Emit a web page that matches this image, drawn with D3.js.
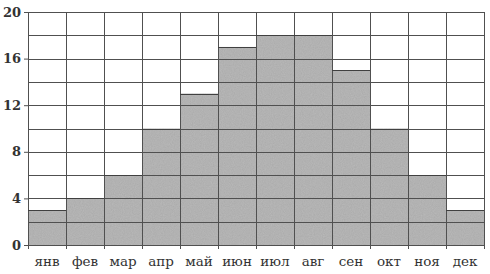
<!DOCTYPE html>
<html>
<head>
<meta charset="utf-8">
<script src="https://cdn.jsdelivr.net/npm/d3@7"></script>
<style>
    body { margin: 0; background: #fff; }
    #chart { width: 490px; height: 274px; }
    .axis text { font-family: "DejaVu Serif", "Liberation Serif", serif; fill: #333; }
    .axis .domain { display: none; }
</style>
</head>
<body>
<div id="chart"></div>
<script>
const months = ['янв', 'фев', 'мар', 'апр', 'май', 'июн', 'июл', 'авг', 'сен', 'окт', 'ноя', 'дек'];
const values = [3, 4, 6, 10, 13, 17, 18, 18, 15, 10, 6, 3];
const yTicks = [0, 4, 8, 12, 16, 20];
const gridTicks = [0, 2, 4, 6, 8, 10, 12, 14, 16, 18, 20];

const padding = {left: 28, top: 12, right: 6, bottom: 29};
const width = 490, height = 274;
const w = width - padding.left - padding.right,
      h = height - padding.top - padding.bottom;

const svg = d3.select('#chart')
    .append('svg')
    .attr('width', width)
    .attr('height', height);

// grainy grey like the printed original
const defs = svg.append('defs');
const filter = defs.append('filter').attr('id', 'grain');
filter.append('feTurbulence')
    .attr('type', 'fractalNoise')
    .attr('baseFrequency', 0.9)
    .attr('numOctaves', 2)
    .attr('result', 'noise');
filter.append('feColorMatrix')
    .attr('in', 'noise')
    .attr('type', 'matrix')
    .attr('values', '0 0 0 0 0  0 0 0 0 0  0 0 0 0 0  0 0 0 0.18 0')
    .attr('result', 'dots');
filter.append('feComposite')
    .attr('in', 'dots')
    .attr('in2', 'SourceGraphic')
    .attr('operator', 'in')
    .attr('result', 'dotsIn');
filter.append('feMerge').selectAll('feMergeNode')
    .data(['SourceGraphic', 'dotsIn'])
    .join('feMergeNode')
    .attr('in', d => d);

const g = svg.append('g')
    .attr('transform', `translate(${padding.left}, ${padding.top})`);

const xScale = d3.scaleBand()
    .domain(months)
    .range([0, w])
    .padding(0);
const yScale = d3.scaleLinear()
    .domain([0, 20])
    .range([h, 0]);

// bars
g.append('g')
    .selectAll('rect')
    .data(values)
    .join('rect')
    .attr('x', (d, i) => xScale(months[i]))
    .attr('y', d => yScale(d))
    .attr('width', xScale.bandwidth())
    .attr('height', d => yScale(0) - yScale(d))
    .attr('fill', '#bababa')
    .attr('filter', 'url(#grain)');

// horizontal grid
g.append('g')
    .attr('class', 'grid')
    .selectAll('line')
    .data(gridTicks)
    .join('line')
    .attr('x1', 0)
    .attr('x2', w)
    .attr('y1', d => Math.round(yScale(d)) + 0.5)
    .attr('y2', d => Math.round(yScale(d)) + 0.5)
    .attr('stroke', '#505050')
    .attr('stroke-width', 1);

// vertical grid (column borders), sticking out a bit below the axis
const edges = months.map(m => xScale(m)).concat([w]);
g.append('g')
    .selectAll('line')
    .data(edges)
    .join('line')
    .attr('x1', d => Math.round(d) + 0.5)
    .attr('x2', d => Math.round(d) + 0.5)
    .attr('y1', yScale(20))
    .attr('y2', yScale(0) + 4)
    .attr('stroke', '#505050')
    .attr('stroke-width', 1);

// bar outlines at the tops
g.append('g')
    .selectAll('line')
    .data(values)
    .join('line')
    .attr('x1', (d, i) => xScale(months[i]))
    .attr('x2', (d, i) => xScale(months[i]) + xScale.bandwidth())
    .attr('y1', d => Math.round(yScale(d)) + 0.5)
    .attr('y2', d => Math.round(yScale(d)) + 0.5)
    .attr('stroke', '#404040')
    .attr('stroke-width', 1.2);

// y axis
const yAxis = d3.axisLeft(yScale)
    .tickValues(yTicks)
    .tickSize(4)
    .tickPadding(3);
const ya = g.append('g')
    .attr('class', 'axis y-axis')
    .call(yAxis);
ya.selectAll('.tick line').attr('stroke', '#505050');
ya.selectAll('text').attr('font-size', 13).attr('font-weight', 'bold').attr('fill', '#3a3a3a');

// x axis
const xAxis = d3.axisBottom(xScale)
    .tickSize(0)
    .tickPadding(11);
const xa = g.append('g')
    .attr('class', 'axis x-axis')
    .attr('transform', `translate(0, ${h})`)
    .call(xAxis);
xa.selectAll('text').attr('font-size', 13.5).attr('fill', '#333');
</script>
</body>
</html>
